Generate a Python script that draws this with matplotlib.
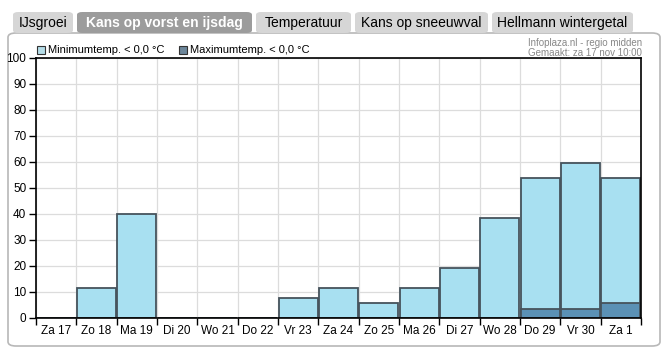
import numpy as np
import matplotlib
matplotlib.use("Agg")
import matplotlib.pyplot as plt
from matplotlib.patches import FancyBboxPatch, Rectangle

plt.rcParams['font.family'] = ['Liberation Sans', 'DejaVu Sans']

# data
days = ["Za 17", "Zo 18", "Ma 19", "Di 20", "Wo 21", "Do 22", "Vr 23", "Za 24",
        "Zo 25", "Ma 26", "Di 27", "Wo 28", "Do 29", "Vr 30", "Za 1"]
min_below_zero = [0, 11.5, 40, 0, 0, 0, 7.7, 11.5, 5.8, 11.5, 19.2, 38.5, 53.8, 59.6, 53.8]
max_below_zero = [0, 0, 0, 0, 0, 0, 0, 0, 0, 0, 0, 0, 3.5, 3.5, 5.7]
tabs = ["IJsgroei", "Kans op vorst en ijsdag", "Temperatuur", "Kans op sneeuwval", "Hellmann wintergetal"]
active_tab = 1

W, H = 667, 358
fig = plt.figure(figsize=(W / 100, H / 100), dpi=100)


def px(x, y):
    # pixel coords (top-left origin) -> figure fraction
    return x / W, 1 - y / H


# panel around the chart
x0, y0 = px(8, 346)
x1, y1 = px(660, 33)
panel = FancyBboxPatch((x0, y0), x1 - x0, y1 - y0, boxstyle="round,pad=0,rounding_size=0.012",
                       transform=fig.transFigure, facecolor="white", edgecolor="#b8b8b8", lw=1.2,
                       zorder=-2)
fig.add_artist(panel)

# tabs
tab_edges = [(13, 73), (77, 252), (256, 351), (355, 488), (492, 633)]
for i, (name, (a, b)) in enumerate(zip(tabs, tab_edges)):
    tx0, ty0 = px(a, 33)
    tx1, ty1 = px(b, 12)
    fc = "#9c9c9c" if i == active_tab else "#d6d6d6"
    fig.add_artist(FancyBboxPatch((tx0, ty0), tx1 - tx0, ty1 - ty0,
                                  boxstyle="round,pad=0,rounding_size=0.008",
                                  transform=fig.transFigure, facecolor=fc, edgecolor="none",
                                  zorder=-1))
    cx, cy = px((a + b) / 2, 22.5)
    if i == active_tab:
        fig.text(cx, cy, name, ha="center", va="center", fontsize=10, color="white", fontweight="bold")
    else:
        fig.text(cx, cy, name, ha="center", va="center", fontsize=10, color="black")

# chart
l, b = px(36, 318)
r, t = px(641, 58)
ax = fig.add_axes([l, b, r - l, t - b])
ax.patch.set_alpha(0)

x = np.arange(len(days))
ax.bar(x, min_below_zero, width=0.96, color="#a8e0f1", edgecolor="#46535c", linewidth=1.3, zorder=3)
ax.bar(x, max_below_zero, width=0.96, color="#5b91b5", edgecolor="#46535c", linewidth=1.3, zorder=4)

ax.set_xlim(-0.5, len(days) - 0.5)
ax.set_ylim(0, 100)
ax.set_yticks(np.arange(0, 101, 10))
ax.set_xticks(x)
ax.set_xticklabels(days)
ax.set_xticks(np.arange(-0.5, len(days), 1), minor=True)
ax.tick_params(axis="x", which="major", length=0, labelsize=8.5, pad=5)
ax.tick_params(axis="x", which="minor", length=5, width=1, direction="out")
ax.tick_params(axis="y", length=5, width=1, labelsize=8.5, pad=2)
ax.grid(True, axis="y", color="#dcdcdc", lw=0.9, zorder=0)
ax.grid(True, axis="x", which="minor", color="#dcdcdc", lw=0.9, zorder=0)
ax.set_axisbelow(True)
for s in ax.spines.values():
    s.set_color("black")
    s.set_linewidth(1.2)
    s.set_zorder(5)

# legend
for lx, label, col in [(37, "Minimumtemp. < 0,0 \u00b0C", "#b5dde8"),
                       (179, "Maximumtemp. < 0,0 \u00b0C", "#6c869a")]:
    sx, sy = px(lx, 54)
    sw, sh = 8 / W, 8 / H
    fig.add_artist(Rectangle((sx, sy), sw, sh, transform=fig.transFigure,
                             facecolor=col, edgecolor="#333333", lw=0.8))
    tx, ty = px(lx + 11, 50)
    fig.text(tx, ty, label, ha="left", va="center", fontsize=8)

# source text
sx, sy = px(642, 43)
fig.text(sx, sy, "Infoplaza.nl - regio midden", ha="right", va="center", fontsize=7, color="#888888")
sx, sy = px(642, 53)
fig.text(sx, sy, "Gemaakt: za 17 nov 10:00", ha="right", va="center", fontsize=7, color="#888888")

fig.savefig("out.png", dpi=100)
